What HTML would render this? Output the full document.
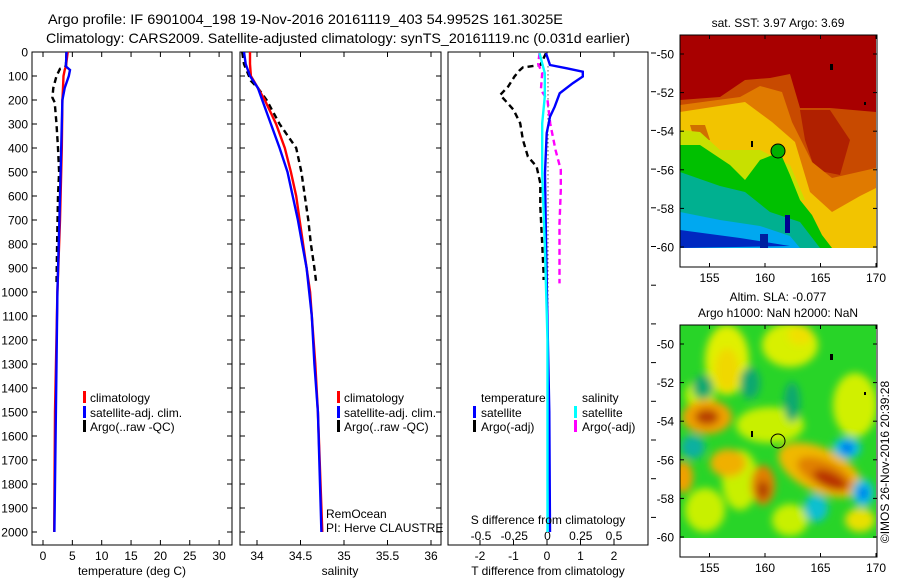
<!DOCTYPE html>
<html><head><meta charset="utf-8"><style>
html,body{margin:0;padding:0;background:#fff;}
svg{display:block;font-family:"Liberation Sans",sans-serif;}
</style></head><body>
<svg id="fig" width="900" height="580" viewBox="0 0 900 580" xmlns="http://www.w3.org/2000/svg">
<defs>
<filter id="blur" x="-20%" y="-20%" width="140%" height="140%"><feGaussianBlur stdDeviation="4"/></filter>
<clipPath id="clipSst"><rect x="680" y="35" width="196" height="213"/></clipPath>
<clipPath id="clipSla"><rect x="680" y="325" width="196" height="213"/></clipPath>
<clipPath id="c1"><rect x="32" y="52" width="200" height="493"/></clipPath>
<clipPath id="c2"><rect x="240" y="52" width="201" height="493"/></clipPath>
<clipPath id="c3"><rect x="448" y="52" width="200" height="493"/></clipPath>
</defs>
<text x="48" y="24" font-size="14" textLength="515" lengthAdjust="spacingAndGlyphs">Argo profile: IF 6901004_198 19-Nov-2016 20161119_403 54.9952S 161.3025E</text>
<text x="46" y="43" font-size="14" textLength="584" lengthAdjust="spacingAndGlyphs">Climatology: CARS2009. Satellite-adjusted climatology: synTS_20161119.nc (0.031d earlier)</text>

<g id="p1"></g>
<g id="p2"></g>
<g id="p3"></g>

<!-- SST map -->
<g>
<text x="778" y="27" font-size="12" text-anchor="middle">sat. SST: 3.97 Argo: 3.69</text>
<g clip-path="url(#clipSst)">
<rect x="680" y="35" width="196" height="213" fill="#a80000"/>
<polygon fill="#c84a00" points="680,100 720,97 745,80 770,78 790,74 800,108 830,108 876,112 876,248 680,248"/>
<polygon fill="#b02000" points="800,110 830,110 850,140 840,175 815,170 805,140"/>
<polygon fill="#e07a00" points="680,105 740,97 760,86 782,92 792,122 812,162 832,178 876,168 876,248 680,248"/>
<polygon fill="#f2c400" points="680,112 745,102 772,122 795,142 810,192 832,212 860,196 876,188 876,248 680,248"/>
<polygon fill="#d07000" points="690,125 705,125 710,140 695,142"/>
<polygon fill="#c8e000" points="680,130 700,132 720,150 760,150 790,165 805,200 680,200"/>
<polygon fill="#00c000" points="680,145 700,145 730,165 745,180 760,160 780,152 790,175 800,200 812,215 822,235 832,248 680,248"/>
<polygon fill="#00b090" points="680,172 720,186 745,192 770,212 800,222 820,248 680,248"/>
<polygon fill="#00a8f0" points="680,212 720,220 760,226 790,236 800,248 680,248"/>
<polygon fill="#0028c0" points="680,230 740,238 790,246 680,248"/>
<rect x="785" y="215" width="5" height="18" fill="#000090"/>
<rect x="760" y="234" width="8" height="14" fill="#0020a0"/>
<circle cx="778" cy="151" r="7" fill="#00b000" stroke="#000" stroke-width="1"/>
<rect x="830" y="64" width="3" height="6" fill="#000"/>
<rect x="864" y="102" width="2" height="3" fill="#000"/>
<rect x="751" y="141" width="2" height="6" fill="#000"/>
</g>
<rect x="680" y="35" width="197" height="232" fill="none" stroke="#000" stroke-width="1"/>
<g id="mapAx1"></g>
</g>

<!-- SLA map -->
<g>
<text x="778" y="301" font-size="12" text-anchor="middle">Altim. SLA: -0.077</text>
<text x="778" y="317" font-size="12" text-anchor="middle">Argo h1000: NaN h2000: NaN</text>
<g clip-path="url(#clipSla)">
<rect x="680" y="325" width="196" height="213" fill="#28d428"/>
<g filter="url(#blur)">
<ellipse cx="727" cy="360" rx="22" ry="35" fill="#e0f000"/>
<ellipse cx="727" cy="370" rx="12" ry="22" fill="#f0d800"/>
<ellipse cx="790" cy="345" rx="28" ry="22" fill="#d8f000"/>
<ellipse cx="800" cy="335" rx="12" ry="10" fill="#f0e000"/>
<ellipse cx="855" cy="405" rx="22" ry="32" fill="#d0f000"/>
<ellipse cx="770" cy="425" rx="34" ry="18" fill="#c8f000"/>
<ellipse cx="700" cy="395" rx="15" ry="15" fill="#c0f000"/>
<ellipse cx="705" cy="510" rx="20" ry="22" fill="#c8f000"/>
<ellipse cx="790" cy="520" rx="18" ry="16" fill="#c8f000"/>
<ellipse cx="740" cy="480" rx="18" ry="30" fill="#c8f000"/>
<ellipse cx="707" cy="417" rx="25" ry="17" fill="#f0a000"/>
<ellipse cx="707" cy="417" rx="12" ry="8" fill="#b84000"/>
<ellipse cx="728" cy="463" rx="18" ry="14" fill="#f0b000"/>
<ellipse cx="763" cy="485" rx="12" ry="20" fill="#e08000"/>
<ellipse cx="763" cy="490" rx="6" ry="9" fill="#b04000"/>
<ellipse cx="820" cy="470" rx="45" ry="22" fill="#f0b800" transform="rotate(25 820 470)"/>
<ellipse cx="825" cy="474" rx="30" ry="13" fill="#e08000" transform="rotate(25 825 474)"/>
<ellipse cx="830" cy="480" rx="18" ry="8" fill="#b83000" transform="rotate(25 830 480)"/>
<ellipse cx="683" cy="477" rx="10" ry="16" fill="#f0a000"/>
<ellipse cx="860" cy="520" rx="15" ry="12" fill="#e8e000"/>
<ellipse cx="703" cy="387" rx="10" ry="12" fill="#10a870"/>
<ellipse cx="750" cy="383" rx="10" ry="16" fill="#10a870"/>
<ellipse cx="792" cy="402" rx="8" ry="20" fill="#10a870"/>
<ellipse cx="693" cy="447" rx="12" ry="12" fill="#10b0a0"/>
<ellipse cx="847" cy="448" rx="14" ry="11" fill="#10c0e0"/>
<ellipse cx="847" cy="448" rx="6" ry="6" fill="#0070f0"/>
<ellipse cx="863" cy="493" rx="11" ry="14" fill="#10c0e0"/>
<ellipse cx="863" cy="493" rx="5" ry="6" fill="#0070f0"/>
<ellipse cx="816" cy="508" rx="12" ry="14" fill="#10c0d0"/>
</g>
<circle cx="778" cy="441" r="7" fill="none" stroke="#000" stroke-width="1"/>
<rect x="830" y="354" width="3" height="6" fill="#000"/>
<rect x="864" y="392" width="2" height="3" fill="#000"/>
<rect x="751" y="431" width="2" height="6" fill="#000"/>
</g>
<rect x="680" y="325" width="197" height="232" fill="none" stroke="#000" stroke-width="1"/>
<g id="mapAx2"></g>
<text transform="translate(889,462) rotate(-90)" font-size="12" text-anchor="middle">©IMOS 26-Nov-2016 20:39:28</text>
</g>
</svg>
<script>
// ---- data ----
const tempDepth = [0,60,75,100,150,200,400,500,700,1000,1500,2000];
const tempClim  = [4.2,3.9,3.7,3.5,3.4,3.3,3.2,3.1,2.9,2.45,2.05,1.9];
const tempSat   = [4.0,3.9,4.6,4.4,3.7,3.3,3.1,3.0,2.8,2.45,2.2,1.95];
const argoDepth = [0,60,70,100,150,190,210,300,400,500,600,800,970];
const argoTemp  = [4.0,3.9,2.9,2.3,1.75,1.6,2.0,2.3,2.55,2.75,2.55,2.4,2.3];
const salDepth  = [0,50,100,150,200,300,400,500,600,700,800,900,1000,1100,1300,1500,2000];
const salClim   = [33.92,33.92,33.93,34.01,34.09,34.22,34.32,34.39,34.45,34.49,34.53,34.57,34.61,34.63,34.67,34.70,34.75];
const salSat    = [33.85,33.87,33.92,34.01,34.06,34.16,34.26,34.35,34.41,34.47,34.52,34.57,34.60,34.63,34.66,34.70,34.74];
const argoSal   = [33.83,33.85,33.93,34.01,34.11,34.26,34.45,34.51,34.55,34.59,34.62,34.66,34.68];
const argoSalDepth = [0,50,120,150,200,300,400,500,600,700,800,900,960];
const tdDepth   = [5,54,68,82,102,130,172,228,270,338,505,783,1020,1500,2000];
const tdSat     = [-0.03,0.09,0.59,1.07,1.07,0.77,0.38,0.23,0.09,-0.01,-0.06,-0.03,0.0,0.07,0.09];
const tdArgoDepth = [5,54,64,78,102,144,179,200,241,297,366,436,477,547,644,783,922,950];
const tdArgo    = [-0.03,-0.2,-0.72,-0.83,-0.97,-1.16,-1.4,-1.26,-1.0,-0.8,-0.72,-0.57,-0.31,-0.2,-0.2,-0.15,-0.1,-0.1];
const sdDepth   = [5,88,186,297,505,800,1200,2000];
const sdSat     = [-0.06,-0.02,-0.02,-0.04,-0.04,-0.02,0.0,0.0];
const sdArgoDepth = [5,50,88,158,200,297,408,491,575,714,964];
const sdArgo    = [-0.06,-0.07,-0.04,-0.05,0.0,0.02,0.06,0.1,0.1,0.09,0.09];
const depthTicks = [0,100,200,300,400,500,600,700,800,900,1000,1100,1200,1300,1400,1500,1600,1700,1800,1900,2000];
const tempTicks = [0,5,10,15,20,25,30];
const salTicks = [34,34.5,35,35.5,36];
const tdTicks = [-2,-1,0,1,2];
const sdTicks = [-0.5,-0.25,0,0.25,0.5];
const sdTickLabels = ['-0.5','-0.25','0','0.25','0.5'];
const latTicks = [-50,-52,-54,-56,-58,-60];
const lonTicks = [155,160,165,170];

const NS='http://www.w3.org/2000/svg';
const TOP=52, BOT=545;
const yD = d => TOP + d*0.24;
const xT = t => 43 + t*5.87;
const xS = s => 257 + (s-34)*87;
const xTD = v => 547 + v*33.5;
const xSD = v => 547.5 + v*133;
function mk(tag, attrs, parent){ const e=document.createElementNS(NS,tag); for(const k in attrs) e.setAttribute(k,attrs[k]); parent.appendChild(e); return e; }
function txt(x,y,s,anchor,parent,size){ const t=mk('text',{x:x,y:y,'font-size':size||12,'text-anchor':anchor||'start'},parent); t.textContent=s; return t; }
function line(xs, ds, xf, color, dash, parent, name){
  const pts = xs.map((v,i)=>xf(v).toFixed(1)+','+yD(ds[i]).toFixed(1)).join(' ');
  const p = mk('polyline',{points:pts,fill:'none',stroke:color,'stroke-width':2.4},parent);
  if(dash) p.setAttribute('stroke-dasharray',dash);
  
  
  return p;
}
function frame(g,x0,x1){
  const r = mk('rect',{x:x0,y:TOP,width:x1-x0,height:BOT-TOP,fill:'none',stroke:'#000','stroke-width':1},g);
  
  
}
function xticks(g, ticks, f, labels, ly){
  ticks.forEach((t,i)=>{
    const x=f(t);
    mk('line',{x1:x,x2:x,y1:BOT,y2:BOT-5,stroke:'#000'},g);
    mk('line',{x1:x,x2:x,y1:TOP,y2:TOP+5,stroke:'#000'},g);
    const lab = txt(x,ly,labels?labels[i]:String(t),'middle',g);
    
    
  });
}
function yticks(g,x0,x1,labels){
  depthTicks.forEach(d=>{
    const y=yD(d);
    mk('line',{x1:x0,x2:x0+5,y1:y,y2:y,stroke:'#000'},g);
    mk('line',{x1:x1,x2:x1-5,y1:y,y2:y,stroke:'#000'},g);
    if(labels){ const l=txt(28,y+4.5,String(d),'end',g);
      
       }
  });
}
function legendMark(g,x,y,color){ mk('rect',{x:x,y:y-6,width:3,height:12,fill:color},g); }

// Panel 1
const p1=document.getElementById('p1');
frame(p1,32,232); yticks(p1,32,232,true); xticks(p1,tempTicks,xT,null,560);
const g1=mk('g',{'clip-path':'url(#c1)'},p1);
line(argoTemp,argoDepth,xT,'#000','6,4',g1,'argo-temperature-line');
line(tempClim,tempDepth,xT,'#f00',null,g1,'climatology-temperature-line');
line(tempSat,tempDepth,xT,'#00f',null,g1,'satellite-temperature-line');
txt(132,575,'temperature (deg C)','middle',p1);
legendMark(p1,83,397,'#f00'); txt(90,402,'climatology','start',p1);
legendMark(p1,83,412,'#00f'); txt(90,417,'satellite-adj. clim.','start',p1);
legendMark(p1,83,426,'#000'); txt(90,431,'Argo(..raw -QC)','start',p1);

// Panel 2
const p2=document.getElementById('p2');
frame(p2,240,441); yticks(p2,240,441,false); xticks(p2,salTicks,xS,null,560);
const g2=mk('g',{'clip-path':'url(#c2)'},p2);
line(argoSal,argoSalDepth,xS,'#000','6,4',g2,'argo-salinity-line');
line(salClim,salDepth,xS,'#f00',null,g2,'climatology-salinity-line');
line(salSat,salDepth,xS,'#00f',null,g2,'satellite-salinity-line');
txt(340,575,'salinity','middle',p2);
legendMark(p2,337,397,'#f00'); txt(344,402,'climatology','start',p2);
legendMark(p2,337,412,'#00f'); txt(344,417,'satellite-adj. clim.','start',p2);
legendMark(p2,337,426,'#000'); txt(344,431,'Argo(..raw -QC)','start',p2);
txt(326,518,'RemOcean','start',p2);
txt(326,532,'PI: Herve CLAUSTRE','start',p2);

// Panel 3
const p3=document.getElementById('p3');
frame(p3,448,648);
tdTicks.forEach(t=>{const x=xTD(t); mk('line',{x1:x,x2:x,y1:BOT,y2:BOT-5,stroke:'#000'},p3); mk('line',{x1:x,x2:x,y1:TOP,y2:TOP+5,stroke:'#000'},p3); txt(x,560,String(t),'middle',p3);});
sdTicks.forEach((t,i)=>{const l=txt(xSD(t),540,sdTickLabels[i],'middle',p3);  });
for(let k=0;k<13;k++){ const y=53+k*38.7; mk('line',{x1:651,x2:656,y1:y,y2:y,stroke:'#000'},p3); }
const g3=mk('g',{'clip-path':'url(#c3)'},p3);
mk('line',{x1:548,x2:548,y1:yD(60),y2:yD(2000),stroke:'#000','stroke-dasharray':'1,3'},g3);
line(tdArgo,tdArgoDepth,xTD,'#000','6,4',g3,'argo-t-diff-line');
line(sdArgo,sdArgoDepth,xSD,'#f0f','6,4',g3,'argo-s-diff-line');
line(tdSat,tdDepth,xTD,'#00f',null,g3,'satellite-t-diff-line');
line(sdSat,sdDepth,xSD,'#0ff',null,g3,'satellite-s-diff-line');
txt(548,524,'S difference from climatology','middle',p3);
txt(548,575,'T difference from climatology','middle',p3);
txt(481,402,'temperature','start',p3);
legendMark(p3,473,412,'#00f'); txt(481,417,'satellite','start',p3);
legendMark(p3,473,426,'#000'); txt(481,431,'Argo(-adj)','start',p3);
txt(582,402,'salinity','start',p3);
legendMark(p3,574,412,'#0ff'); txt(582,417,'satellite','start',p3);
legendMark(p3,574,426,'#f0f'); txt(582,431,'Argo(-adj)','start',p3);

// map axes
function mapAxes(id, y0, yLat50, boxBot){
  const g=document.getElementById(id);
  latTicks.forEach(l=>{ const y=yLat50+19.3*(-50-l);
    mk('line',{x1:680,x2:684,y1:y,y2:y,stroke:'#000'},g);
    mk('line',{x1:877,x2:873,y1:y,y2:y,stroke:'#000'},g);
    txt(674,y+4.5,String(l),'end',g); });
  lonTicks.forEach(l=>{ const x=765+11.1*(l-160);
    mk('line',{x1:x,x2:x,y1:boxBot,y2:boxBot-4,stroke:'#000'},g);
    mk('line',{x1:x,x2:x,y1:y0,y2:y0+4,stroke:'#000'},g);
    txt(x,boxBot+15,String(l),'middle',g); });
}
mapAxes('mapAx1',35,54,267);
mapAxes('mapAx2',325,344,557);
</script>
</body></html>
